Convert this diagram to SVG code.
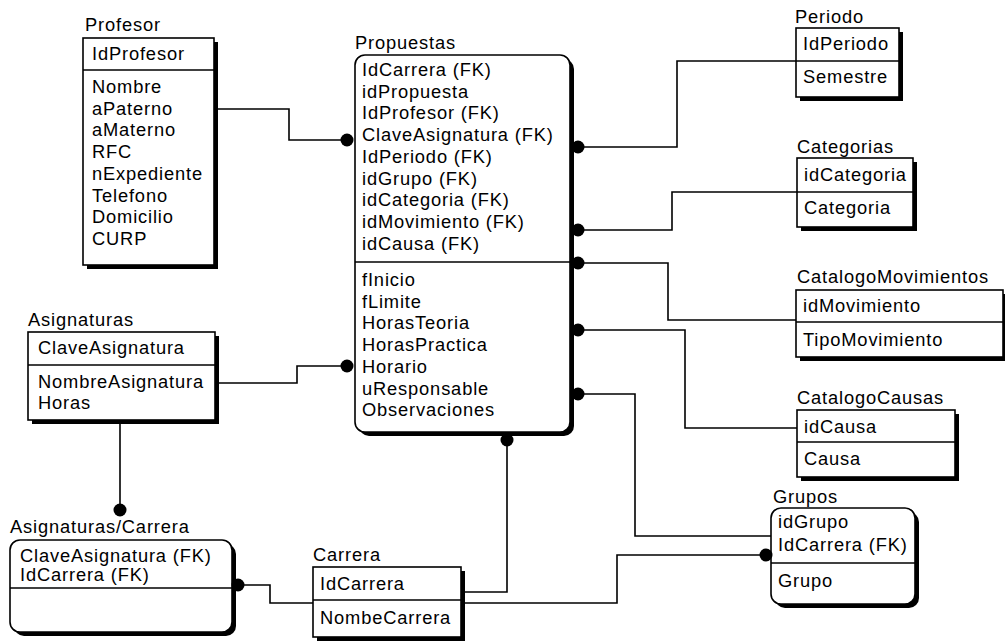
<svg xmlns="http://www.w3.org/2000/svg" width="1005" height="641" viewBox="0 0 1005 641">
<style>
text{font-family:"Liberation Sans",Arial,sans-serif;font-size:18.3px;letter-spacing:0.85px;fill:#000}
.box{fill:#fff;stroke:#000;stroke-width:1.6}
.sh{fill:#000}
.div{stroke:#000;stroke-width:1.6}
.conn path{fill:none;stroke:#000;stroke-width:1.6}
.conn circle{fill:#000}
</style>
<rect width="1005" height="641" fill="#fff"/>

<g id="Profesor">
<text x="85" y="31">Profesor</text>
<rect class="sh" x="87" y="42" width="131" height="227"/>
<rect class="box" x="83" y="38" width="131" height="227"/>
<line class="div" x1="83" y1="70" x2="214" y2="70"/>
<text x="92" y="60">IdProfesor</text>
<text x="92" y="93">Nombre</text>
<text x="92" y="114.7">aPaterno</text>
<text x="92" y="136.4">aMaterno</text>
<text x="92" y="158.1">RFC</text>
<text x="92" y="179.8">nExpediente</text>
<text x="92" y="201.5">Telefono</text>
<text x="92" y="223.2">Domicilio</text>
<text x="92" y="244.9">CURP</text>
</g>

<g id="Propuestas">
<text x="355" y="49">Propuestas</text>
<rect class="sh" x="359" y="59" width="215" height="377" rx="10"/>
<rect class="box" x="355" y="55" width="215" height="377" rx="10"/>
<line class="div" x1="355" y1="262" x2="570" y2="262"/>
<text x="362" y="76">IdCarrera (FK)</text>
<text x="362" y="97.7">idPropuesta</text>
<text x="362" y="119.4">IdProfesor (FK)</text>
<text x="362" y="141.1">ClaveAsignatura (FK)</text>
<text x="362" y="162.8">IdPeriodo (FK)</text>
<text x="362" y="184.5">idGrupo (FK)</text>
<text x="362" y="206.2">idCategoria (FK)</text>
<text x="362" y="227.9">idMovimiento (FK)</text>
<text x="362" y="249.6">idCausa (FK)</text>
<text x="362" y="286">fInicio</text>
<text x="362" y="307.7">fLimite</text>
<text x="362" y="329.4">HorasTeoria</text>
<text x="362" y="351.1">HorasPractica</text>
<text x="362" y="372.8">Horario</text>
<text x="362" y="394.5">uResponsable</text>
<text x="362" y="416.2">Observaciones</text>
</g>

<g id="Periodo">
<text x="795" y="23">Periodo</text>
<rect class="sh" x="800" y="32" width="103" height="69"/>
<rect class="box" x="796" y="28" width="103" height="69"/>
<line class="div" x1="796" y1="61" x2="899" y2="61"/>
<text x="803" y="50">IdPeriodo</text>
<text x="803" y="83">Semestre</text>
</g>

<g id="Categorias">
<text x="797" y="153">Categorias</text>
<rect class="sh" x="801" y="162" width="116" height="69"/>
<rect class="box" x="797" y="158" width="116" height="69"/>
<line class="div" x1="797" y1="192" x2="913" y2="192"/>
<text x="804" y="181">idCategoria</text>
<text x="804" y="214">Categoria</text>
</g>

<g id="CatalogoMovimientos">
<text x="797" y="283">CatalogoMovimientos</text>
<rect class="sh" x="800" y="294" width="210" height="67"/>
<rect class="box" x="796" y="290" width="207" height="67"/>
<line class="div" x1="796" y1="322" x2="1003" y2="322"/>
<text x="803" y="312">idMovimiento</text>
<text x="803" y="346">TipoMovimiento</text>
</g>

<g id="CatalogoCausas">
<text x="797" y="404">CatalogoCausas</text>
<rect class="sh" x="801" y="414" width="158" height="67"/>
<rect class="box" x="797" y="410" width="158" height="67"/>
<line class="div" x1="797" y1="442" x2="955" y2="442"/>
<text x="804" y="433">idCausa</text>
<text x="804" y="465">Causa</text>
</g>

<g id="Grupos">
<text x="773" y="503">Grupos</text>
<rect class="sh" x="775" y="512" width="144" height="96" rx="10"/>
<rect class="box" x="771" y="508" width="144" height="96" rx="10"/>
<line class="div" x1="771" y1="563" x2="915" y2="563"/>
<text x="778" y="528">idGrupo</text>
<text x="778" y="551">IdCarrera (FK)</text>
<text x="778" y="587">Grupo</text>
</g>

<g id="Asignaturas">
<text x="28" y="326">Asignaturas</text>
<rect class="sh" x="32" y="336" width="187" height="88"/>
<rect class="box" x="28" y="332" width="187" height="88"/>
<line class="div" x1="28" y1="365" x2="215" y2="365"/>
<text x="38" y="354">ClaveAsignatura</text>
<text x="38" y="388">NombreAsignatura</text>
<text x="38" y="409">Horas</text>
</g>

<g id="AsignaturasCarrera">
<text x="10" y="533">Asignaturas/Carrera</text>
<rect class="sh" x="14" y="544" width="222" height="92" rx="10"/>
<rect class="box" x="10" y="540" width="222" height="92" rx="10"/>
<line class="div" x1="10" y1="588" x2="232" y2="588"/>
<text x="20" y="562">ClaveAsignatura (FK)</text>
<text x="20" y="581">IdCarrera (FK)</text>
</g>

<g id="Carrera">
<text x="313" y="561">Carrera</text>
<rect class="sh" x="317" y="571" width="148" height="70"/>
<rect class="box" x="313" y="567" width="148" height="70"/>
<line class="div" x1="313" y1="600" x2="461" y2="600"/>
<text x="320" y="590">IdCarrera</text>
<text x="320" y="624">NombeCarrera</text>
</g>

<g id="connectors" class="conn">
<path d="M218 109 H289 V140 H347"/>
<circle cx="347" cy="140" r="6.5"/>
<path d="M219 383 H297 V366 H347"/>
<circle cx="347" cy="366" r="6.5"/>
<path d="M120 424 V510"/>
<circle cx="120" cy="510" r="6.5"/>
<path d="M238 585 H270 V603 H313"/>
<circle cx="238" cy="585" r="6.5"/>
<path d="M507 440 V592 H465"/>
<circle cx="507" cy="440" r="6.5"/>
<path d="M465 603 H617 V555 H766"/>
<circle cx="766" cy="555" r="6.5"/>
<path d="M578 147 H677 V61 H796"/>
<circle cx="578" cy="147" r="6.5"/>
<path d="M578 230 H672 V192 H797"/>
<circle cx="578" cy="230" r="6.5"/>
<path d="M578 263 H668 V320 H796"/>
<circle cx="578" cy="263" r="6.5"/>
<path d="M578 330 H685 V428 H797"/>
<circle cx="578" cy="330" r="6.5"/>
<path d="M578 394 H635 V536 H771"/>
<circle cx="578" cy="394" r="6.5"/>
</g>
</svg>
